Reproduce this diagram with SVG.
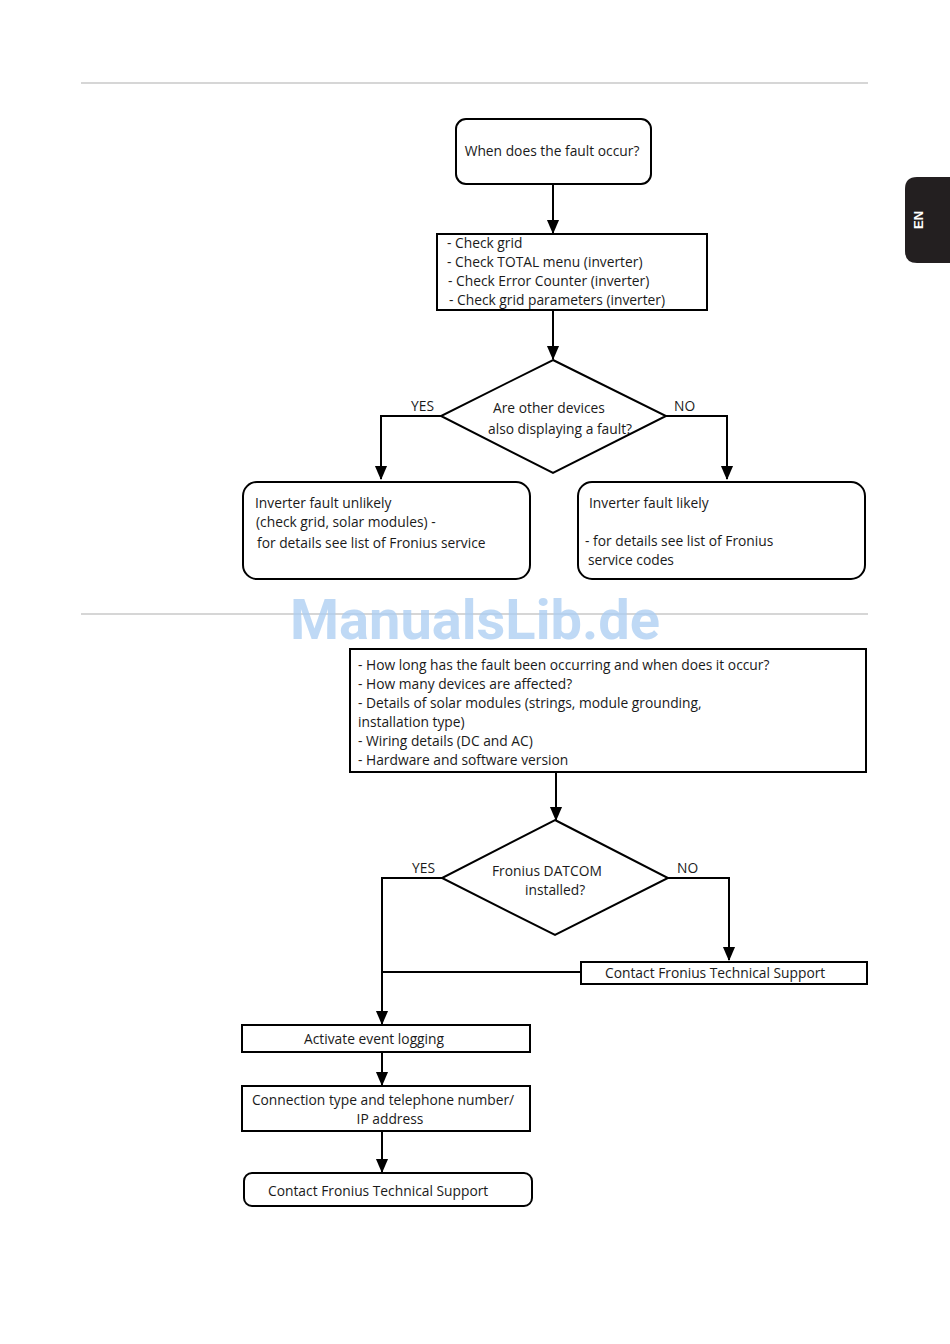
<svg xmlns="http://www.w3.org/2000/svg" width="950" height="1344" viewBox="0 0 950 1344">
<style>
.t{font-family:"Open Sans","Liberation Sans",sans-serif;font-size:13.8px;fill:#1a1a1a}
.box{fill:#fff;stroke:#000;stroke-width:2}
.ln{fill:none;stroke:#000;stroke-width:2}
.hr{stroke:#c8c8c8;stroke-width:1.5}
.m{text-anchor:middle}
</style>
<defs>
<marker id="ad" markerUnits="userSpaceOnUse" markerWidth="14" markerHeight="16" refX="15" refY="7" orient="auto" viewBox="0 0 16 14">
<path d="M0,0 L16,7 L0,14 Z" fill="#000"/>
</marker>
</defs>
<rect width="950" height="1344" fill="#fff"/>
<line class="hr" x1="81" y1="83" x2="868" y2="83"/>
<line class="hr" x1="81" y1="614" x2="868" y2="614"/>
<g id="tab">
<path d="M917,177 H950 V263 H917 Q905,263 905,251 V189 Q905,177 917,177 Z" fill="#231f20"/>
<text x="923" y="220" transform="rotate(-90 923 220)" text-anchor="middle" font-family="Liberation Sans,Arial,sans-serif" font-weight="bold" font-size="13" fill="#fff">EN</text>
</g>
<g id="connectors">
<path class="ln" d="M553,184 V233" marker-end="url(#ad)"/>
<path class="ln" d="M553,310 V359" marker-end="url(#ad)"/>
<path class="ln" d="M441,416 H381 V479" marker-end="url(#ad)"/>
<path class="ln" d="M666,416 H727 V479" marker-end="url(#ad)"/>
<path class="ln" d="M556,772 V820" marker-end="url(#ad)"/>
<path class="ln" d="M442,878 H382 V1024" marker-end="url(#ad)"/>
<path class="ln" d="M668,878 H729 V960" marker-end="url(#ad)"/>
<path class="ln" d="M581,972 H382"/>
<path class="ln" d="M382,1052 V1085" marker-end="url(#ad)"/>
<path class="ln" d="M382,1131 V1172" marker-end="url(#ad)"/>
<text class="t" x="411" y="411">YES</text>
<text class="t" x="674" y="411">NO</text>
<text class="t" x="412" y="873">YES</text>
<text class="t" x="677" y="873">NO</text>
</g>
<g id="n1">
<rect class="box" x="456" y="119" width="195" height="65" rx="10"/>
<text class="t m" x="552" y="156">When does the fault occur?</text>
</g>
<g id="n2">
<rect class="box" x="437" y="234" width="270" height="76"/>
<text class="t" x="447" y="247.5">- Check grid</text>
<text class="t" x="447" y="266.5">- Check TOTAL menu (inverter)</text>
<text class="t" x="448" y="285.5">- Check Error Counter (inverter)</text>
<text class="t" x="449" y="304.5">- Check grid parameters (inverter)</text>
</g>
<g id="n3">
<polygon class="box" points="553,360 666,416 553,473 441,416"/>
<text class="t" x="493" y="412.5">Are other devices</text>
<text class="t" x="488" y="433.5">also displaying a fault?</text>
</g>
<g id="n4">
<rect class="box" x="243" y="482" width="287" height="97" rx="14"/>
<text class="t" x="255" y="507.5">Inverter fault unlikely</text>
<text class="t" x="256" y="526.5">(check grid, solar modules) -</text>
<text class="t" x="257" y="547.5">for details see list of Fronius service</text>
</g>
<g id="n5">
<rect class="box" x="578" y="482" width="287" height="97" rx="14"/>
<text class="t" x="589" y="507.5">Inverter fault likely</text>
<text class="t" x="585" y="545.5">- for details see list of Fronius</text>
<text class="t" x="588" y="564.5">service codes</text>
</g>
<g id="n6">
<rect class="box" x="350" y="649" width="516" height="123"/>
<text class="t" x="358" y="669.5">- How long has the fault been occurring and when does it occur?</text>
<text class="t" x="358" y="688.5">- How many devices are affected?</text>
<text class="t" x="358" y="707.5">- Details of solar modules (strings, module grounding,</text>
<text class="t" x="358" y="726.5">installation type)</text>
<text class="t" x="358" y="745.5">- Wiring details (DC and AC)</text>
<text class="t" x="358" y="764.5">- Hardware and software version</text>
</g>
<g id="n7">
<polygon class="box" points="555,820 668,878 555,935 442,878"/>
<text class="t" x="492" y="875.5">Fronius DATCOM</text>
<text class="t" x="525" y="894.5">installed?</text>
</g>
<g id="n8">
<rect class="box" x="581" y="962" width="286" height="22"/>
<text class="t" x="605" y="977.5">Contact Fronius Technical Support</text>
</g>
<g id="n9">
<rect class="box" x="242" y="1025" width="288" height="27"/>
<text class="t m" x="374" y="1043.5">Activate event logging</text>
</g>
<g id="n10">
<rect class="box" x="242" y="1086" width="288" height="45"/>
<text class="t m" x="383" y="1104.5">Connection type and telephone number/</text>
<text class="t m" x="390" y="1123.5">IP address</text>
</g>
<g id="n11">
<rect class="box" x="244" y="1173" width="288" height="33" rx="8"/>
<text class="t" x="268" y="1195.5">Contact Fronius Technical Support</text>
</g>
<text x="475" y="639" text-anchor="middle" font-family="Roboto,'Liberation Sans',sans-serif" font-weight="bold" font-size="56" fill="#a9ccf2" fill-opacity="0.75">ManualsLib.de</text>
</svg>
